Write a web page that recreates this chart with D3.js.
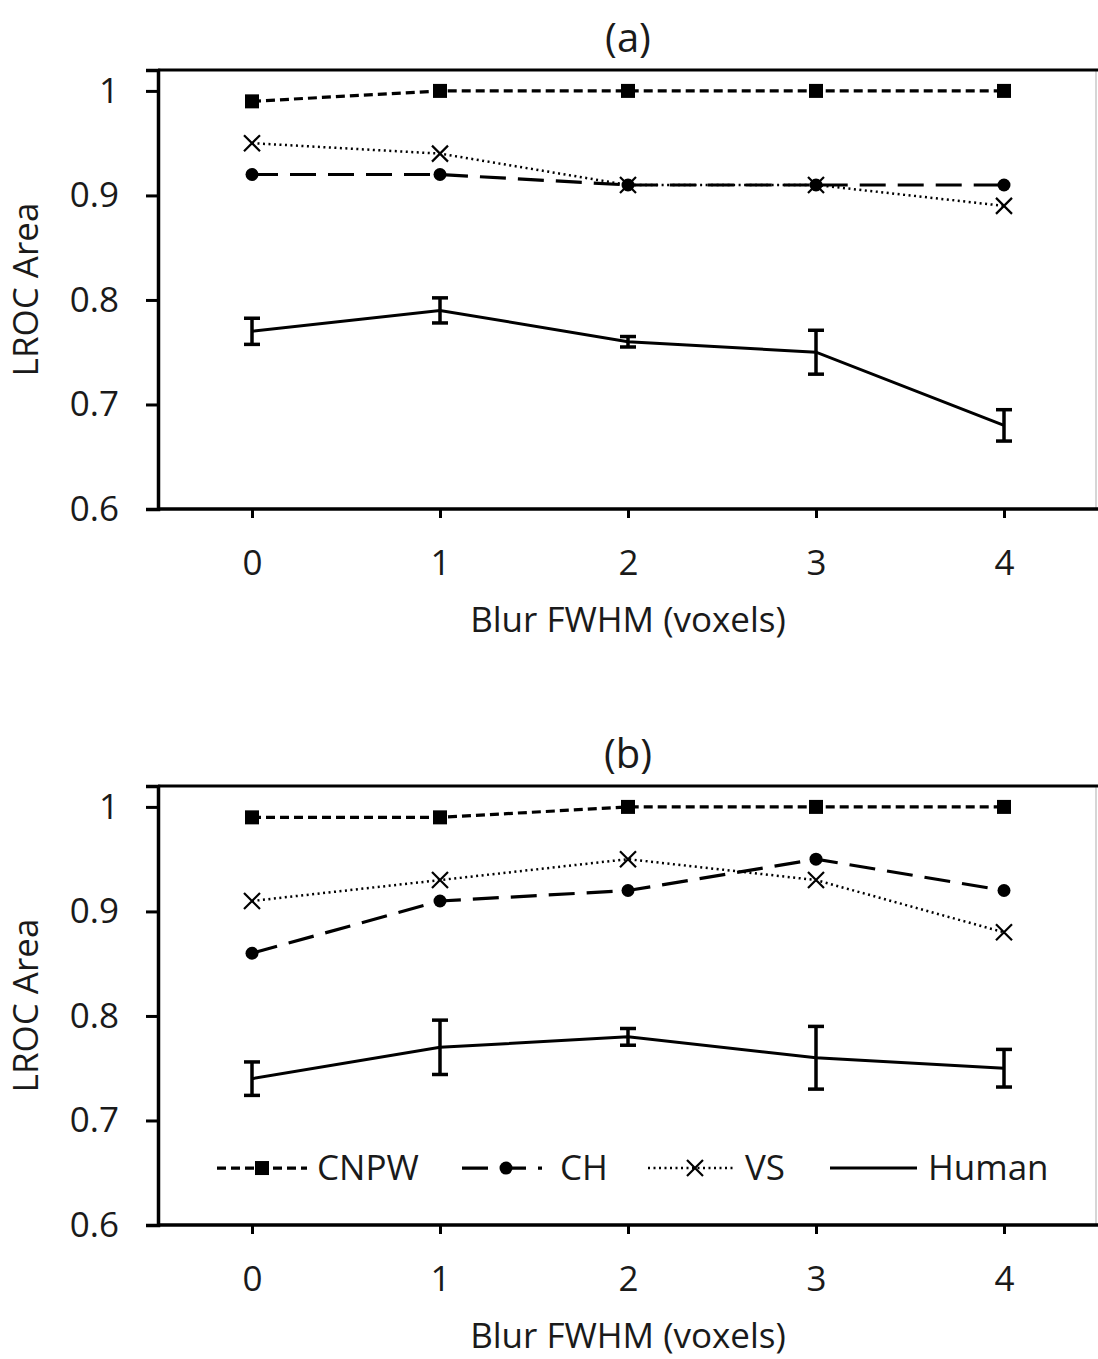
<!DOCTYPE html>
<head>
    <meta charset="utf-8">
    <script src="https://d3js.org/d3.v7.min.js"></script>
    <style>
        body { margin: 0; background: #fff; }
        text { font-family: "Open Sans", "Noto Sans", sans-serif; fill: #1a1a1a; }
    </style>
</head>
<body>
    <div id="chart"></div>
    <script>
        // x values (blur FWHM in voxels)
        var blur = [0, 1, 2, 3, 4]
        var yTicks = [0.6, 0.7, 0.8, 0.9, 1]
        var panelTitles = ["(a)", "(b)"]

        // panel (a)
        var cnpwA = [0.99, 1, 1, 1, 1]
        var chA = [0.92, 0.92, 0.91, 0.91, 0.91]
        var vsA = [0.95, 0.94, 0.91, 0.91, 0.89]
        var humanA = [0.77, 0.79, 0.76, 0.75, 0.68]
        var humanErrA = [0.0125, 0.012, 0.005, 0.021, 0.015]

        // panel (b)
        var cnpwB = [0.99, 0.99, 1, 1, 1]
        var chB = [0.86, 0.91, 0.92, 0.95, 0.92]
        var vsB = [0.91, 0.93, 0.95, 0.93, 0.88]
        var humanB = [0.74, 0.77, 0.78, 0.76, 0.75]
        var humanErrB = [0.016, 0.026, 0.008, 0.03, 0.018]

        var seriesNames = ["CNPW", "CH", "VS", "Human"]

        var W = 1098, H = 1359
        var svg = d3.select("#chart").append("svg")
            .attr("width", W).attr("height", H)

        var styles = {
            CNPW: { dash: "9,5", width: 3.2, marker: "square" },
            CH: { dash: "26,12", width: 3.2, marker: "circle" },
            VS: { dash: "2,3.5", width: 2.5, marker: "cross" },
            Human: { dash: null, width: 3, marker: null }
        }

        var x = d3.scaleLinear().domain([-0.5, 4.5]).range([158, 1098])

        function drawMarker(g, type, cx, cy) {
            if (type === "square") {
                g.append("rect").attr("x", cx - 7).attr("y", cy - 7)
                    .attr("width", 14).attr("height", 14).attr("fill", "#000")
            } else if (type === "circle") {
                g.append("circle").attr("cx", cx).attr("cy", cy).attr("r", 6.5).attr("fill", "#000")
            } else if (type === "cross") {
                var s = 8
                g.append("path")
                    .attr("d", "M" + (cx - s) + "," + (cy - s) + "L" + (cx + s) + "," + (cy + s) +
                        "M" + (cx - s) + "," + (cy + s) + "L" + (cx + s) + "," + (cy - s))
                    .attr("stroke", "#000").attr("stroke-width", 2.2).attr("fill", "none")
            }
        }

        function panel(offset, title, data, err, showLegend) {
            var y = d3.scaleLinear().domain([0.6, 1.02]).range([509 + offset, 70 + offset])
            var g = svg.append("g")

            // frame: thin grey right edge, thick top
            g.append("line").attr("x1", 1096).attr("x2", 1096)
                .attr("y1", y(1.02)).attr("y2", y(0.6)).attr("stroke", "#c8c8c8").attr("stroke-width", 1.5)
            g.append("line").attr("x1", x(-0.5)).attr("x2", W)
                .attr("y1", y(1.02)).attr("y2", y(1.02)).attr("stroke", "#000").attr("stroke-width", 3)

            var yAxis = g.append("g").attr("transform", "translate(" + x(-0.5) + ",0)")
                .call(d3.axisLeft(y).tickValues(yTicks).tickSize(12).tickPadding(27)
                    .tickFormat(function(d) { return d === 1 ? "1" : d3.format(".1f")(d) }))
            var xAxis = g.append("g").attr("transform", "translate(0," + y(0.6) + ")")
                .call(d3.axisBottom(x).tickValues(blur).tickSize(9).tickPadding(32).tickFormat(d3.format("d")))
            ;[yAxis, xAxis].forEach(function(a) {
                a.select(".domain").attr("stroke-width", 3.5)
                a.selectAll(".tick line").attr("stroke-width", 3)
                a.selectAll("text").attr("font-size", 35).attr("fill", "#1a1a1a")
                    .attr("font-family", "'Open Sans', sans-serif")
            })
            xAxis.select(".domain").attr("d", "M" + x(-0.5) + ",0H" + W)

            g.append("text").attr("x", x(2)).attr("y", 52 + offset).attr("text-anchor", "middle")
                .attr("font-size", 40).text(title)
            g.append("text").attr("x", x(2)).attr("y", 632 + offset).attr("text-anchor", "middle")
                .attr("font-size", 35).text("Blur FWHM (voxels)")
            g.append("text").attr("transform", "translate(38," + y(0.81) + ") rotate(-90)")
                .attr("text-anchor", "middle").attr("font-size", 35).text("LROC Area")

            var line = d3.line().x(function(d, i) { return x(blur[i]) }).y(function(d) { return y(d) })

            // human error bars
            var eb = g.append("g").attr("stroke", "#000").attr("stroke-width", 3.5)
            err.forEach(function(e, i) {
                var v = data.Human[i], cx = x(blur[i])
                eb.append("line").attr("x1", cx).attr("x2", cx).attr("y1", y(v - e)).attr("y2", y(v + e))
                eb.append("line").attr("x1", cx - 8).attr("x2", cx + 8).attr("y1", y(v - e)).attr("y2", y(v - e))
                eb.append("line").attr("x1", cx - 8).attr("x2", cx + 8).attr("y1", y(v + e)).attr("y2", y(v + e))
            })

            ;["Human", "CH", "VS", "CNPW"].forEach(function(name) {
                var st = styles[name]
                g.append("path").datum(data[name]).attr("d", line)
                    .attr("fill", "none").attr("stroke", "#000").attr("stroke-width", st.width)
                    .attr("stroke-dasharray", st.dash)
                var mg = g.append("g")
                data[name].forEach(function(v, i) { drawMarker(mg, st.marker, x(blur[i]), y(v)) })
            })

            if (showLegend) {
                var ly = y(0.6545)
                var items = [
                    { name: "CNPW", x1: 217, x2: 307, mx: 262, tx: 317 },
                    { name: "CH", x1: 462, x2: 542, mx: 506, tx: 560 },
                    { name: "VS", x1: 648, x2: 733, mx: 695, tx: 745 },
                    { name: "Human", x1: 830, x2: 917, mx: null, tx: 928 }
                ]
                items.forEach(function(it) {
                    var st = styles[it.name]
                    g.append("line").attr("x1", it.x1).attr("x2", it.x2).attr("y1", ly).attr("y2", ly)
                        .attr("stroke", "#000").attr("stroke-width", st.width).attr("stroke-dasharray", st.dash)
                    if (st.marker) drawMarker(g, st.marker, it.mx, ly)
                    g.append("text").attr("x", it.tx).attr("y", ly + 12).attr("font-size", 35).text(it.name)
                })
            }
        }

        panel(0, panelTitles[0], { CNPW: cnpwA, CH: chA, VS: vsA, Human: humanA }, humanErrA, false)
        panel(716, panelTitles[1], { CNPW: cnpwB, CH: chB, VS: vsB, Human: humanB }, humanErrB, true)
    </script>
</body>
</html>
